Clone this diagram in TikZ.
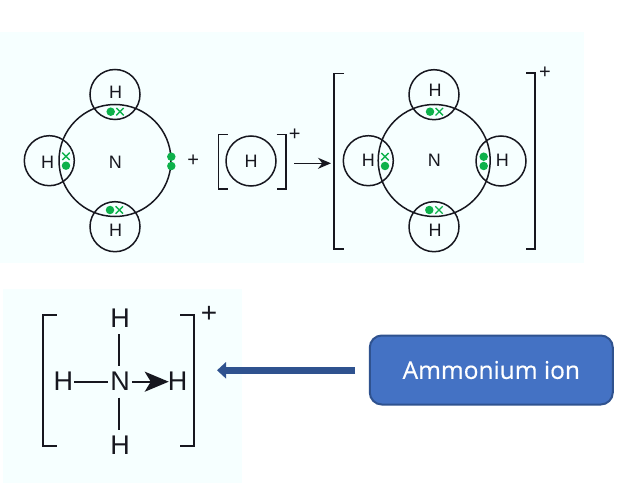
\documentclass[tikz,border=0pt]{standalone}
\usepackage{fontspec}
\setmainfont{Liberation Sans}
\newfontfamily\boxfont[FakeBold=0.4]{Open Sans}
\usetikzlibrary{arrows.meta, shapes.misc}

\definecolor{panelbg}{HTML}{F6FFFF}
\definecolor{electron}{HTML}{0DB14B}
\definecolor{boxfill}{HTML}{4472C4}
\definecolor{boxedge}{HTML}{2F528F}
\definecolor{inkdark}{HTML}{17171F}

\tikzset{
  shell/.style={draw=inkdark, circle, line width=1.5pt, minimum size=#1, inner sep=0pt},
  atom/.style={inner sep=0pt, text=inkdark, font=\fontsize{18}{18}\selectfont},
  bigatom/.style={inner sep=0pt, text=inkdark, font=\fontsize{27}{27}\selectfont},
  edot/.style={circle, fill=electron, minimum size=8.5pt, inner sep=0pt},
  ecross/.style={cross out, draw=electron, line width=1.4pt, minimum size=6pt, inner sep=0pt},
  bracket/.style={draw=inkdark, line width=1.5pt},
  bond/.style={draw=inkdark, line width=2pt}
}

\begin{document}
\begin{tikzpicture}[x=1pt, y=-1pt]
\useasboundingbox (0,0) rectangle (631,486);
\fill[white] (0,0) rectangle (631,486);
\fill[panelbg] (0,32) rectangle (584,263);
\fill[panelbg] (3,289) rectangle (242,483);

% ammonia + proton
\node[shell=112pt] (nleft) at (115,160.5) {};
\node[shell=50pt] (htopa) at (115,94.5) {};
\node[shell=50pt] (hlefta) at (49.3,160.7) {};
\node[shell=50pt] (hbota) at (115,226.7) {};
\node[atom] (ltopa) at (115.7,92.5) {H};
\node[atom] (llefta) at (47.7,162.5) {H};
\node[atom] (lna) at (115.3,162.5) {N};
\node[atom] (lbota) at (115.7,230) {H};
\node[edot] (e1) at (110.7,111.7) {};
\node[ecross] (e2) at (120,111.7) {};
\node[ecross] (e3) at (66,156.3) {};
\node[edot] (e4) at (66,165.7) {};
\node[edot] (e5) at (110,210) {};
\node[ecross] (e6) at (119.3,210) {};
\node[edot] (e7) at (171.3,156.7) {};
\node[edot] (e8) at (171.3,166) {};
\node[atom, font=\fontsize{20}{20}\selectfont] (plusa) at (193.3,161) {+};

\node[shell=50pt] (hion) at (251,161) {};
\node[atom] (lion) at (251,161.7) {H};
\draw[bracket] (227.7,134.3) -- (218.3,134.3) -- (218.3,189) -- (227.7,189);
\draw[bracket] (276.7,134.3) -- (286,134.3) -- (286,189) -- (276.7,189);
\node[atom, font=\fontsize{20}{20}\selectfont] (plusb) at (294.7,134.3) {+};

\coordinate (arrowstart) at (294.3,163.3);
\coordinate (arrowend) at (331,163.3);
\draw[line width=1.4pt, inkdark, -{Stealth[length=13pt,width=11pt]}] (arrowstart) -- (arrowend);

% ammonium
\node[shell=112pt] (nright) at (434.2,160.5) {};
\node[shell=50pt] (htopb) at (434,94.7) {};
\node[shell=50pt] (hleftb) at (368.3,160.7) {};
\node[shell=50pt] (hrightb) at (501,161) {};
\node[shell=50pt] (hbotb) at (434,226.7) {};
\node[atom] (ltopb) at (435,90) {H};
\node[atom] (lleftb) at (368.3,160) {H};
\node[atom] (lnb) at (434.3,160) {N};
\node[atom] (lrightb) at (502.3,160) {H};
\node[atom] (lbotb) at (435,230) {H};
\node[edot] (e9) at (430,111.7) {};
\node[ecross] (e10) at (439.3,111.7) {};
\node[ecross] (e11) at (385,156.7) {};
\node[edot] (e12) at (385,166) {};
\node[edot] (e13) at (429.3,210) {};
\node[ecross] (e14) at (439,210) {};
\node[edot] (e15) at (483.7,156.7) {};
\node[edot] (e16) at (483.7,166) {};
\draw[bracket] (344,73.3) -- (334,73.3) -- (334,249) -- (344,249);
\draw[bracket, line width=2pt] (526,73.3) -- (535,73.3) -- (535,249) -- (526,249);
\node[atom, font=\fontsize{20}{20}\selectfont] (plusc) at (545,72.3) {+};

% structural formula
\node[bigatom] (sn) at (120,381.7) {N};
\node[bigatom] (stop) at (120,318.3) {H};
\node[bigatom] (sbot) at (120,445.7) {H};
\node[bigatom] (sleft) at (63.3,381.7) {H};
\node[bigatom] (sright) at (177.7,381.7) {H};
\draw[bond] ([xshift=-1pt,yshift=16pt]sn.center) -- ([xshift=-1pt,yshift=48pt]sn.center);
\draw[bond] ([xshift=-1pt,yshift=-16pt]sn.center) -- ([xshift=-1pt,yshift=-48pt]sn.center);
\draw[bond] ([xshift=1pt]sleft.east) -- ([xshift=-2pt]sn.west);
\draw[bond, -{Stealth[length=24pt,width=20pt,inset=6pt]}] ([xshift=2pt]sn.east) -- ([xshift=1pt]sright.west);
\draw[bracket, line width=2.2pt] (56.7,315) -- (42.7,315) -- (42.7,445.7) -- (56.7,445.7);
\draw[bracket, line width=2.2pt] (180,315) -- (194,315) -- (194,445.7) -- (180,445.7);
\node[bigatom, font=\fontsize{28}{28}\selectfont] (plusd) at (209,314) {+};

% label box
\node[draw=boxedge, fill=boxfill, line width=2pt, rounded corners=12pt, minimum width=243pt,
  minimum height=69pt, inner sep=0pt, text=white, font=\boxfont\fontsize{24.5}{24.5}\selectfont] (ionbox) at (491.3,370) {Ammonium ion};
\coordinate (pointerstart) at (355,370.3);
\coordinate (pointerend) at (217,370.3);
\draw[boxedge, line width=7pt, -{Triangle[length=9pt,width=16pt]}] (pointerstart) -- (pointerend);
\end{tikzpicture}
\end{document}
